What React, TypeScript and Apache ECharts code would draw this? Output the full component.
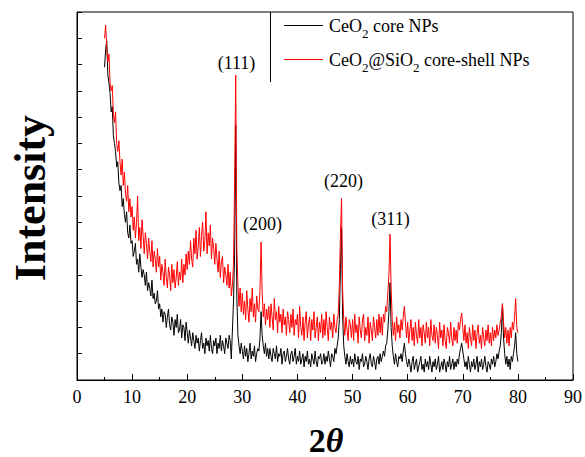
import { useEffect, useRef } from "react";
import * as echarts from "echarts";

// 2θ sampling of the digitised patterns (degrees)
const twoThetaStart = 5;
const twoThetaStep = 0.2;

// CeO2 core NPs (arbitrary intensity units, 0..14 axis)
const coreNPs = [
  11.9, 12.6, 12.9, 11.6, 11.3, 10.9, 10.2, 10.4, 9.3, 9.0, 8.7, 8.1, 8.3, 7.5, 7.2, 7.4, 6.6, 6.9, 6.3, 6.0, 6.4, 5.6, 5.4, 5.9, 5.2,
  5.3, 4.7, 4.9, 5.2, 4.4, 4.6, 4.1, 4.8, 4.3, 3.9, 4.2, 4.0, 3.6, 4.1, 3.4, 3.7, 3.5, 3.2, 3.8, 3.1, 3.3, 2.9, 3.0, 3.4, 2.7,
  2.9, 2.4, 2.7, 2.2, 2.6, 2.5, 2.0, 2.4, 2.7, 2.1, 1.9, 2.4, 2.2, 1.7, 2.3, 2.0, 2.5, 1.8, 1.9, 2.3, 1.6, 2.1, 2.0, 1.5, 2.2,
  1.8, 1.4, 1.9, 1.6, 1.3, 1.8, 1.5, 1.2, 1.7, 1.4, 1.6, 1.1, 1.5, 1.8, 1.2, 1.4, 1.0, 1.6, 1.3, 1.5, 1.1, 1.7, 1.2, 1.0, 1.5,
  1.3, 1.6, 1.0, 1.4, 1.2, 1.7, 1.1, 1.5, 1.3, 1.0, 1.6, 1.4, 1.2, 1.7, 1.5, 0.8, 1.9, 3.0, 4.8, 9.7, 3.2, 1.7, 1.3, 1.0, 1.4,
  1.1, 0.8, 1.3, 0.9, 1.2, 0.7, 1.0, 1.4, 0.8, 1.1, 0.9, 1.3, 0.7, 1.0, 1.2, 1.1, 1.6, 2.6, 1.7, 1.3, 1.0, 1.4, 0.9, 1.2, 0.8,
  1.2, 0.9, 0.7, 1.2, 1.0, 0.8, 1.3, 0.7, 1.0, 0.9, 1.2, 0.6, 1.0, 1.1, 0.7, 0.9, 1.2, 0.8, 0.6, 1.0, 1.1, 0.7, 0.9, 1.2, 0.6,
  0.9, 0.7, 1.1, 0.6, 0.8, 1.0, 0.5, 0.9, 0.7, 1.1, 0.6, 0.8, 0.5, 1.0, 0.8, 0.6, 1.1, 0.7, 0.5, 0.9, 0.8, 1.0, 0.6, 0.7, 1.0,
  0.6, 0.9, 0.7, 1.1, 0.8, 0.5, 1.0, 0.9, 0.7, 1.2, 1.0, 1.3, 1.6, 2.3, 4.2, 5.8, 2.4, 1.3, 0.9, 0.6, 1.0, 0.7, 0.5, 0.9, 0.6,
  0.8, 0.5, 1.0, 0.7, 0.6, 0.9, 0.4, 0.8, 0.7, 1.0, 0.5, 0.6, 0.9, 0.7, 0.4, 0.8, 1.0, 0.6, 0.5, 0.9, 0.7, 0.4, 0.8, 0.9, 0.6,
  1.0, 0.7, 0.9, 1.1, 0.9, 1.3, 1.4, 1.9, 2.6, 3.7, 2.0, 1.3, 0.9, 0.6, 1.0, 0.7, 0.5, 0.9, 0.8, 1.0, 0.7, 1.1, 1.4, 1.0, 0.7,
  0.5, 0.8, 0.6, 0.3, 0.7, 0.9, 0.4, 0.6, 0.8, 0.3, 0.5, 0.7, 0.9, 0.4, 0.6, 0.3, 0.8, 0.5, 0.7, 0.4, 0.9, 0.6, 0.3, 0.7, 0.5,
  0.8, 0.4, 0.6, 0.9, 0.3, 0.5, 0.7, 0.4, 0.8, 0.6, 0.3, 0.7, 0.5, 0.9, 0.4, 0.6, 0.8, 0.4, 0.7, 0.5, 0.8, 0.6, 1.0, 1.2, 1.4,
  1.1, 0.8, 0.5, 0.7, 0.4, 0.9, 0.6, 0.3, 0.7, 0.5, 0.8, 0.4, 0.6, 0.9, 0.3, 0.7, 0.5, 0.8, 0.4, 0.6, 0.9, 0.5, 0.3, 0.7, 0.6,
  0.4, 0.8, 0.6, 0.9, 0.5, 0.7, 1.0, 0.8, 1.1, 1.3, 1.8, 2.9, 1.6, 1.0, 0.6, 0.9, 0.5, 0.8, 0.4, 0.9, 0.7, 1.0, 1.3, 1.8, 1.0,
  0.7,
];

// CeO2@SiO2 core-shell NPs
const coreShellNPs = [
  13.0, 13.5, 12.6, 12.1, 12.4, 11.3, 11.0, 11.2, 10.1, 9.8, 10.2, 9.0, 8.7, 9.1, 8.3, 7.8, 8.4, 7.4, 7.9, 7.1, 6.8, 7.4, 6.4, 6.9, 6.2,
  6.6, 5.7, 6.2, 5.4, 6.0, 7.0, 5.3, 5.8, 5.0, 6.1, 5.5, 4.8, 5.6, 5.2, 4.6, 5.4, 4.9, 4.5, 5.3, 4.3, 4.9, 4.6, 4.1, 5.0, 4.3,
  4.7, 3.8, 4.4, 4.1, 3.6, 4.6, 3.9, 3.5, 4.3, 4.0, 3.4, 4.4, 3.7, 4.2, 3.5, 3.9, 4.5, 3.6, 4.1, 3.8, 4.6, 3.7, 4.4, 4.0, 4.8,
  4.2, 4.9, 4.4, 5.3, 4.6, 4.3, 5.4, 4.8, 5.7, 4.6, 5.1, 5.8, 4.7, 5.5, 6.0, 4.9, 5.3, 6.4, 4.8, 5.6, 5.1, 5.9, 4.6, 5.4, 5.0,
  4.4, 5.2, 4.6, 4.1, 4.9, 3.9, 4.5, 4.7, 3.7, 4.3, 4.0, 3.6, 4.4, 3.5, 4.1, 3.2, 3.6, 4.4, 7.5, 11.6, 5.0, 3.6, 2.8, 3.5, 2.6,
  3.3, 2.5, 3.0, 2.3, 3.4, 2.7, 2.2, 3.1, 2.6, 3.5, 2.4, 2.9, 2.2, 3.2, 2.7, 2.6, 3.4, 5.25, 3.3, 2.4, 2.9, 2.1, 2.7, 2.3, 2.8,
  2.0, 2.9, 2.4, 1.9, 3.1, 2.3, 2.6, 1.8, 2.8, 2.2, 2.5, 1.8, 2.7, 2.1, 2.4, 1.7, 2.6, 2.3, 1.8, 2.5, 2.0, 2.7, 1.7, 2.3, 2.1,
  2.5, 1.6, 2.8, 2.0, 1.7, 2.4, 1.5, 2.2, 2.6, 1.6, 2.1, 2.4, 1.5, 2.3, 1.9, 2.6, 1.6, 2.0, 2.4, 1.5, 2.2, 1.8, 2.5, 1.6, 2.3,
  1.7, 2.6, 2.0, 1.5, 2.4, 1.9, 2.2, 1.6, 2.5, 2.0, 1.8, 2.3, 2.5, 3.6, 5.5, 6.9, 3.4, 2.3, 1.7, 2.4, 1.9, 1.5, 2.3, 2.1, 1.6,
  2.3, 1.5, 2.5, 1.8, 2.1, 1.4, 2.4, 1.9, 1.6, 2.3, 2.5, 1.5, 2.0, 1.7, 2.4, 1.4, 2.2, 1.9, 1.5, 2.4, 2.0, 1.6, 2.3, 1.7, 2.5,
  1.8, 2.4, 1.7, 2.5, 2.2, 2.8, 2.6, 3.3, 4.0, 5.55, 3.5, 2.3, 1.7, 2.2, 1.5, 2.4, 1.8, 2.1, 1.6, 2.3, 1.9, 2.4, 2.8, 2.2, 1.6,
  2.2, 1.4, 1.9, 2.3, 1.5, 2.0, 1.3, 2.2, 1.7, 1.4, 2.3, 1.6, 2.0, 1.3, 2.1, 1.8, 1.4, 2.2, 1.6, 2.0, 1.3, 2.3, 1.7, 1.5, 2.1,
  1.4, 2.0, 1.7, 1.2, 2.2, 1.6, 1.9, 1.3, 2.1, 1.5, 1.2, 2.0, 1.8, 1.4, 2.2, 1.6, 1.3, 2.0, 1.5, 1.9, 1.4, 2.2, 1.9, 2.3, 2.55,
  2.0, 1.5, 2.1, 1.4, 1.8, 1.2, 2.0, 1.6, 1.3, 2.1, 1.5, 1.9, 1.2, 1.8, 2.1, 1.4, 1.7, 1.2, 2.0, 1.6, 1.3, 1.9, 1.5, 2.1, 1.4,
  1.8, 1.3, 2.0, 1.5, 1.9, 1.6, 2.1, 1.7, 1.9, 2.2, 2.4, 2.9, 2.2, 1.6, 2.0, 1.4, 1.9, 1.3, 2.0, 1.6, 2.2, 1.9, 2.4, 3.1, 2.0,
  1.8,
];

const seriesNames = ["CeO2 core NPs", "CeO2@SiO2 core-shell NPs"];
const peakLabels = ["(111)", "(200)", "(220)", "(311)"];

const SERIF = '"Liberation Serif", "Times New Roman", Times, serif';

function toPairs(values: number[]) {
  return values.map((v, i) => [Math.round((twoThetaStart + i * twoThetaStep) * 10) / 10, v]);
}

export default function App() {
  const ref = useRef<HTMLDivElement>(null);
  useEffect(() => {
    if (!ref.current) return;
    const chart = echarts.init(ref.current, null, { renderer: "svg" });
    const sub = {
      n: { fontSize: 18, lineHeight: 28, verticalAlign: "middle", fontFamily: SERIF, color: "#000" },
      s: { fontSize: 13, lineHeight: 14, verticalAlign: "bottom", fontFamily: SERIF, color: "#000" },
    };
    const peakPos = [
      [236.5, 63],
      [262.5, 224],
      [343.5, 181],
      [390.5, 219],
    ];
    chart.setOption({
      animation: false,
      backgroundColor: "#fff",
      grid: {
        left: 77,
        right: 11,
        top: 12,
        bottom: 77,
        show: true,
        borderColor: "#000",
        borderWidth: 1,
        backgroundColor: "transparent",
      },
      xAxis: {
        type: "value",
        min: 0,
        max: 90,
        interval: 10,
        axisLine: { show: true, onZero: false, lineStyle: { color: "#000", width: 1 } },
        axisTick: { show: true, inside: true, length: 6, lineStyle: { color: "#000", width: 1 } },
        minorTick: { show: true, splitNumber: 2, length: 3, lineStyle: { color: "#000", width: 1 } },
        axisLabel: { color: "#000", fontSize: 18, fontFamily: SERIF, margin: 8 },
        splitLine: { show: false },
      },
      yAxis: {
        type: "value",
        min: 0,
        max: 14,
        interval: 1,
        axisLine: { show: true, onZero: false, lineStyle: { color: "#000", width: 1 } },
        axisTick: { show: true, inside: true, length: 5, lineStyle: { color: "#000", width: 1 } },
        axisLabel: { show: false },
        splitLine: { show: false },
      },
      series: [
        {
          name: seriesNames[0],
          type: "line",
          data: toPairs(coreNPs),
          symbol: "none",
          showSymbol: false,
          lineStyle: { color: "#000", width: 1 },
          itemStyle: { color: "#000" },
          z: 2,
        },
        {
          name: seriesNames[1],
          type: "line",
          data: toPairs(coreShellNPs),
          symbol: "none",
          showSymbol: false,
          lineStyle: { color: "#ff0000", width: 1 },
          itemStyle: { color: "#ff0000" },
          z: 3,
        },
      ],
      graphic: [
        {
          type: "text",
          x: 30,
          y: 198,
          rotation: Math.PI / 2,
          style: {
            text: "Intensity",
            fontSize: 44,
            fontWeight: "bold",
            fontFamily: SERIF,
            fill: "#000",
            align: "center",
            verticalAlign: "middle",
          },
        },
        {
          type: "text",
          x: 326,
          y: 440,
          style: {
            text: "{a|2}{b|θ}",
            align: "center",
            verticalAlign: "middle",
            rich: {
              a: { fontSize: 34, lineHeight: 34, fontWeight: "bold", fontFamily: SERIF, color: "#000" },
              b: { fontSize: 34, lineHeight: 34, fontWeight: "bold", fontStyle: "italic", fontFamily: SERIF, color: "#000" },
            },
          },
        },
        ...peakLabels.map((t, i) => ({
          type: "text",
          x: peakPos[i][0],
          y: peakPos[i][1],
          style: {
            text: t,
            fontSize: 18,
            fontFamily: SERIF,
            fill: "#000",
            align: "center",
            verticalAlign: "middle",
          },
        })),
        {
          type: "line",
          shape: { x1: 270.5, y1: 12, x2: 270.5, y2: 82 },
          style: { stroke: "#000", lineWidth: 1 },
        },
        {
          type: "line",
          shape: { x1: 284, y1: 25.5, x2: 323, y2: 25.5 },
          style: { stroke: "#000", lineWidth: 1 },
        },
        {
          type: "line",
          shape: { x1: 284, y1: 59.5, x2: 323, y2: 59.5 },
          style: { stroke: "#ff0000", lineWidth: 1 },
        },
        {
          type: "text",
          x: 329,
          y: 26,
          style: {
            text: "{n|CeO}{s|2}{n| core NPs}",
            align: "left",
            verticalAlign: "middle",
            rich: sub,
          },
        },
        {
          type: "text",
          x: 329,
          y: 60,
          style: {
            text: "{n|CeO}{s|2}{n|@SiO}{s|2}{n| core-shell NPs}",
            align: "left",
            verticalAlign: "middle",
            rich: sub,
          },
        },
      ],
    });
    return () => chart.dispose();
  }, []);
  return (
    <div
      ref={ref}
      style={{ position: "fixed", left: 0, top: 0, width: 585, height: 457, background: "#fff" }}
    />
  );
}
